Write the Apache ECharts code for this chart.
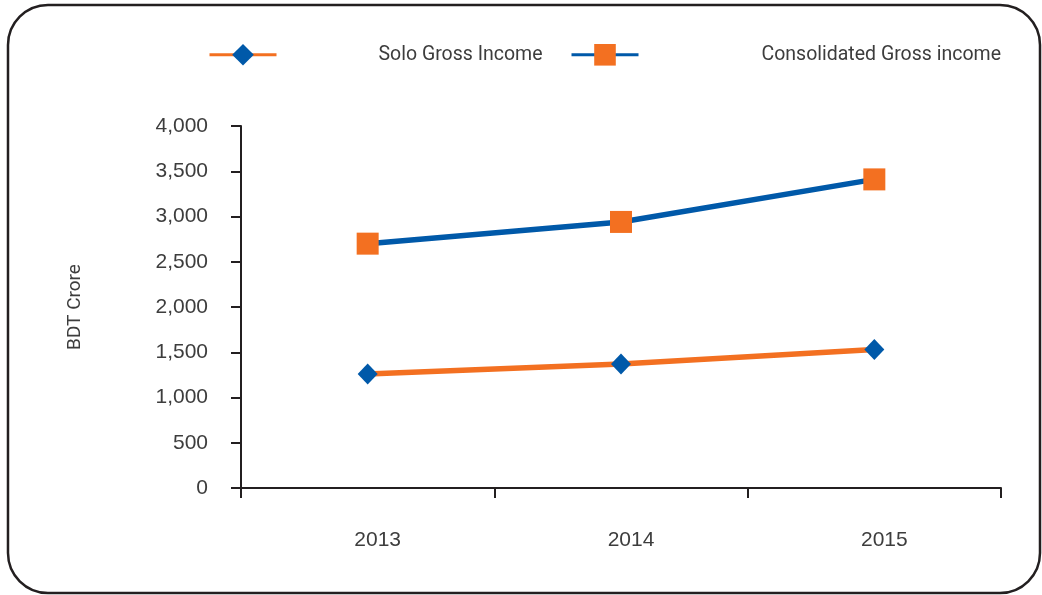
<!DOCTYPE html>
<html>
<head>
<meta charset="utf-8">
<script src="https://cdn.jsdelivr.net/npm/echarts@6/dist/echarts.min.js"></script>
<style>
html,body{margin:0;padding:0;background:#fff;}
#chart{width:1042px;height:595px;}
</style>
</head>
<body>
<div id="chart"></div>
<script>
var categories = ['2013', '2014', '2015'];
var soloGrossIncome = [1260, 1370, 1530];
var consolidatedGrossIncome = [2700, 2940, 3410];
var seriesNames = ['Solo Gross Income', 'Consolidated Gross income'];
var yAxisName = 'BDT Crore';

var BLUE = '#0059a9';
var ORANGE = '#f37021';
var TEXT = '#3d3d3d';
var AXIS = '#231f20';
var NARROW = 'Roboto, "Liberation Sans", sans-serif';

var chart = echarts.init(document.getElementById('chart'), null, {renderer: 'canvas'});
chart.setOption({
  animation: false,
  backgroundColor: '#ffffff',
  graphic: [{
    type: 'rect',
    shape: {x: 8, y: 5, width: 1032, height: 588, r: 40},
    style: {fill: 'none', stroke: AXIS, lineWidth: 2.5},
    z: -1
  }],
  legend: [{
    data: [seriesNames[0]],
    left: 203, top: 39,
    itemWidth: 67, itemHeight: 27,
    lineStyle: {width: 3},
    textStyle: {fontFamily: NARROW, fontSize: 19.5, color: TEXT, padding: [0, 0, 0, 97]}
  }, {
    data: [seriesNames[1]],
    left: 565, top: 39,
    itemWidth: 67, itemHeight: 27,
    lineStyle: {width: 3},
    textStyle: {fontFamily: NARROW, fontSize: 19.5, color: TEXT, padding: [0, 0, 0, 118]}
  }],
  grid: {left: 241, right: 41, top: 126, bottom: 107},
  xAxis: {
    type: 'category',
    data: categories,
    boundaryGap: true,
    axisLine: {lineStyle: {color: AXIS, width: 2}},
    axisTick: {show: true, length: 10, lineStyle: {color: AXIS, width: 2}},
    axisLabel: {fontFamily: 'Liberation Sans', fontSize: 21, color: TEXT, margin: 42, padding: [0, 0, 0, 20]}
  },
  yAxis: {
    type: 'value',
    min: 0, max: 4000, interval: 500,
    name: yAxisName,
    nameLocation: 'middle',
    nameRotate: 90,
    nameGap: 156,
    nameTextStyle: {fontFamily: NARROW, fontSize: 19, color: TEXT},
    axisLine: {show: true, lineStyle: {color: AXIS, width: 2}},
    axisTick: {show: true, length: 10, lineStyle: {color: AXIS, width: 2}},
    splitLine: {show: false},
    axisLabel: {
      fontFamily: 'Liberation Sans', fontSize: 21, color: TEXT, margin: 33,
      formatter: function (v) { return v.toLocaleString('en-US'); }
    }
  },
  series: [{
    name: seriesNames[0],
    type: 'line',
    data: soloGrossIncome,
    symbol: 'diamond',
    symbolSize: [20, 21],
    lineStyle: {color: ORANGE, width: 5.5},
    itemStyle: {color: BLUE},
    color: ORANGE,
    z: 2
  }, {
    name: seriesNames[1],
    type: 'line',
    data: consolidatedGrossIncome,
    symbol: 'rect',
    symbolSize: 22,
    lineStyle: {color: BLUE, width: 5.5},
    itemStyle: {color: ORANGE},
    z: 2
  }]
});
</script>
</body>
</html>
